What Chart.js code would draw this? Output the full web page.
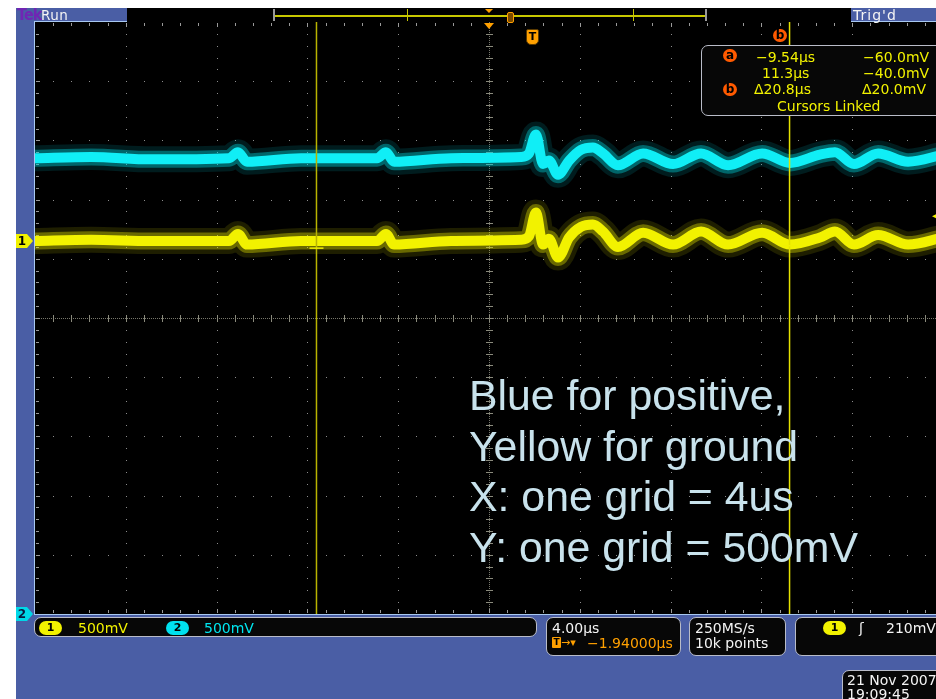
<!DOCTYPE html>
<html>
<head>
<meta charset="utf-8">
<script src="https://cdn.jsdelivr.net/npm/chart.js@4.4.1/dist/chart.umd.min.js"></script>
<style>
  html, body { margin: 0; padding: 0; width: 936px; height: 699px; overflow: hidden; background: #ffffff; }
  body { position: relative; font-family: "DejaVu Sans", sans-serif; }
  #frame { position: absolute; left: 16px; top: 8px; width: 920px; height: 691px; background: #4a5ea5; }
  #scope { position: absolute; left: 0; top: 0; z-index: 1; }
  .ui { position: absolute; z-index: 2; white-space: nowrap; font-size: 14px; line-height: 16px; }
  .box { position: absolute; z-index: 2; background: #070707; border: 1px solid #b9bcc8; border-radius: 7px; box-sizing: border-box; }
  .yel { color: #f2f200; }
  .cyn { color: #00e6f0; }
  .wht { color: #f4f4f4; }
  .org { color: #ffa000; }
  .pill { position: absolute; z-index: 3; height: 14px; border-radius: 7px; text-align: center; font: bold 11px/14px "DejaVu Sans", sans-serif; color: #000; }
  .dot { position: absolute; z-index: 3; width: 14px; height: 13px; border-radius: 7px; background: #ff5a00; color: #000; text-align: center; font: bold 12px/12px "DejaVu Sans", sans-serif; }
  #note { position: absolute; z-index: 2; left: 469px; top: 370px; font-family: "Liberation Sans", Arial, sans-serif; font-size: 42.8px; line-height: 50.7px; color: #c8e2ec; white-space: nowrap; }
</style>
</head>
<body>
<div id="frame"></div>
<canvas id="scope" width="960" height="699"></canvas>

<!-- status bar -->
<div class="ui" style="left:17px;top:6px;font-family:'DejaVu Sans Condensed','DejaVu Sans',sans-serif;font-weight:bold;font-size:16px;line-height:18px;color:#7026b4;letter-spacing:-0.8px;">Tek</div>
<div class="ui wht" style="left:41px;top:7px;font-size:13.5px;letter-spacing:0.4px;">Run</div>
<div style="position:absolute;z-index:2;left:127px;top:8px;width:724px;height:14px;background:#000;"></div>
<div style="position:absolute;z-index:3;left:273px;top:9px;width:2px;height:12px;background:#9a9a9a;"></div>
<div style="position:absolute;z-index:3;left:705px;top:9px;width:2px;height:12px;background:#9a9a9a;"></div>
<div style="position:absolute;z-index:3;left:275px;top:15px;width:430px;height:2px;background:#c8c800;"></div>
<div style="position:absolute;z-index:3;left:407px;top:9px;width:1px;height:12px;background:#c8c800;"></div>
<div style="position:absolute;z-index:3;left:633px;top:9px;width:1px;height:12px;background:#c8c800;"></div>
<div style="position:absolute;z-index:3;left:485px;top:9px;width:0;height:0;border-left:4px solid transparent;border-right:4px solid transparent;border-top:4px solid #ffa000;"></div>
<div style="position:absolute;z-index:3;left:507px;top:12px;width:5px;height:9px;border:1px solid #ffa000;border-radius:2px;background:#7a4a00;"></div>
<div class="ui wht" style="left:853px;top:7px;letter-spacing:1px;">Trig'd</div>

<!-- cursor handle and trigger badge -->
<div class="dot" style="left:773px;top:29px;">b</div>
<div style="position:absolute;z-index:3;left:526px;top:29px;width:11px;height:14px;background:#ffa000;border:1px solid #5a3a00;border-radius:2px 2px 5px 5px;color:#000;font:bold 11px/14px 'DejaVu Sans',sans-serif;text-align:center;">T</div>

<!-- cursor readout -->
<div class="box" style="left:701px;top:45px;width:250px;height:71px;"></div>
<div class="dot" style="left:723px;top:49px;">a</div>
<div class="ui yel" style="left:756px;top:48.5px;">−9.54µs</div>
<div class="ui yel" style="left:863px;top:48.5px;">−60.0mV</div>
<div class="ui yel" style="left:762px;top:64.5px;">11.3µs</div>
<div class="ui yel" style="left:863px;top:64.5px;">−40.0mV</div>
<div class="dot" style="left:723px;top:83px;">b</div>
<div class="ui yel" style="left:754px;top:81px;">Δ20.8µs</div>
<div class="ui yel" style="left:862px;top:81px;">Δ20.0mV</div>
<div class="ui yel" style="left:777px;top:98px;">Cursors Linked</div>

<!-- annotation -->
<div id="note">Blue for positive,<br>Yellow for ground<br>X: one grid = 4us<br>Y: one grid = 500mV</div>

<!-- channel / timebase / trigger readouts -->
<div class="box" style="left:34px;top:617px;width:503px;height:20px;"></div>
<div class="pill" style="left:39px;top:621px;width:23px;background:#f2f200;">1</div>
<div class="ui yel" style="left:78px;top:619.5px;">500mV</div>
<div class="pill" style="left:166px;top:621px;width:23px;background:#00e0ee;">2</div>
<div class="ui cyn" style="left:204px;top:619.5px;">500mV</div>

<div class="box" style="left:546px;top:617px;width:135px;height:39px;"></div>
<div class="ui wht" style="left:552px;top:619.5px;">4.00µs</div>
<div style="position:absolute;z-index:3;left:552px;top:637px;width:9px;height:11px;background:#ffa000;border-radius:1px;color:#000;font:bold 9px/11px 'DejaVu Sans',sans-serif;text-align:center;">T</div>
<div class="ui org" style="left:561px;top:634.5px;font-size:11px;">→▾</div>
<div class="ui org" style="left:587px;top:634.5px;">−1.94000µs</div>

<div class="box" style="left:689px;top:617px;width:97px;height:39px;"></div>
<div class="ui wht" style="left:695px;top:619.5px;">250MS/s</div>
<div class="ui wht" style="left:695px;top:634.5px;">10k points</div>

<div class="box" style="left:795px;top:617px;width:160px;height:39px;"></div>
<div class="pill" style="left:823px;top:621px;width:23px;background:#f2f200;">1</div>
<div class="ui wht" style="left:859px;top:619.5px;">ʃ</div>
<div class="ui wht" style="left:886px;top:619.5px;">210mV</div>

<div class="box" style="left:842px;top:670px;width:110px;height:40px;"></div>
<div class="ui wht" style="left:847px;top:671.5px;">21 Nov 2007</div>
<div class="ui wht" style="left:847px;top:685.5px;">19:09:45</div>

<script>
// Acquisition settings
const US_PER_DIV = 4;          // horizontal scale, µs per division
const MV_PER_DIV = 500;        // vertical scale, mV per division
const H_DIVS = 10;
const V_DIVS = 10;
const CENTER_US = -1.94;       // time at screen centre, relative to trigger
const CH1_GROUND_MV = 650;     // screen position of the channel 1 ground marker
const TRIGGER_LEVEL_MV = 210;  // channel 1 trigger level
const CURSOR_A_US = -9.54;
const CURSOR_B_US = 11.3;
const CURSOR_A_MV = -60.0;
const CURSOR_B_MV = -40.0;

// Sample times (µs from trigger)
const timeUs = [-21.94, -19.47, -16.83, -13.39, -13.00, -12.60, -10.22, -6.87, -6.48, -6.12,
                -3.61, -0.53, -0.18, 0.13, 0.44, 0.70, 1.10, 1.59, 2.11, 2.64,
                3.08, 3.74, 4.85, 6.17, 7.40, 8.59, 10.09, 11.32, 12.64, 13.30,
                14.14, 15.20, 16.52, 18.06];

// Channel 1 (yellow, ground lead), mV relative to its ground marker
const ch1Mv = [0, 10, 0, 0, 60, -30, 0, 0, 60, -30,
               0, 10, 40, 240, -30, 20, -140, 30, 120, 140,
               80, -50, 70, -30, 80, -30, 70, -30, 30, 80,
               -30, 50, -30, 30];

// Channel 2 (cyan, positive lead), mV as placed on screen
const ch2Mv = [1350, 1360, 1340, 1350, 1400, 1320, 1350, 1350, 1400, 1320,
               1350, 1360, 1390, 1550, 1300, 1330, 1210, 1330, 1420, 1440,
               1390, 1290, 1390, 1300, 1390, 1290, 1390, 1310, 1380, 1400,
               1300, 1390, 1320, 1380];

const X_MIN = CENTER_US - US_PER_DIV * H_DIVS / 2;
const X_MAX = CENTER_US + US_PER_DIV * H_DIVS / 2;
const Y_MIN = -MV_PER_DIV * V_DIVS / 2;
const Y_MAX = MV_PER_DIV * V_DIVS / 2;

const ch1Points = timeUs.map((t, i) => ({ x: t, y: ch1Mv[i] + CH1_GROUND_MV }));
const ch2Points = timeUs.map((t, i) => ({ x: t, y: ch2Mv[i] }));

// Each trace is a bright core over a softer persistence glow
function traceLayers(points, core, glow, haze, baseOrder) {
  const common = { data: points, pointRadius: 0, cubicInterpolationMode: 'monotone', fill: false,
                   borderJoinStyle: 'round', borderCapStyle: 'round' };
  return [
    Object.assign({}, common, { borderColor: haze, borderWidth: 26, order: baseOrder + 2 }),
    Object.assign({}, common, { borderColor: glow, borderWidth: 17, order: baseOrder + 1 }),
    Object.assign({}, common, { borderColor: core, borderWidth: 10, order: baseOrder })
  ];
}

const graticule = {
  id: 'graticule',
  beforeDatasetsDraw(chart) {
    const { ctx, chartArea: a, scales: { x, y } } = chart;
    ctx.save();
    ctx.fillStyle = '#000';
    ctx.fillRect(a.left, a.top, a.right - a.left, a.bottom - a.top);

    const cx = Math.round(x.getPixelForValue(CENTER_US));
    const cy = Math.round(y.getPixelForValue(0));

    // grid dots on each division line at fifth-division spacing
    ctx.fillStyle = '#8c8c8c';
    for (let i = 1; i < H_DIVS; i++) {
      if (i === H_DIVS / 2) continue;
      const px = Math.round(x.getPixelForValue(X_MIN + i * US_PER_DIV));
      for (let j = 1; j < V_DIVS * 5; j++) {
        const py = Math.round(y.getPixelForValue(Y_MIN + j * MV_PER_DIV / 5));
        ctx.fillRect(px, py, 1, 1);
      }
    }
    for (let j = 1; j < V_DIVS; j++) {
      if (j === V_DIVS / 2) continue;
      const py = Math.round(y.getPixelForValue(Y_MIN + j * MV_PER_DIV));
      for (let i = 1; i < H_DIVS * 5; i++) {
        const px = Math.round(x.getPixelForValue(X_MIN + i * US_PER_DIV / 5));
        ctx.fillRect(px, py, 1, 1);
      }
    }

    // centre cross: fine dotted lines with fifth-division ticks
    ctx.fillStyle = '#77776c';
    for (let px = a.left; px < a.right; px += 2) ctx.fillRect(px, cy, 1, 1);
    for (let py = a.top; py < a.bottom; py += 2) ctx.fillRect(cx, py, 1, 1);
    ctx.fillStyle = '#8a8a7c';
    for (let i = 1; i < H_DIVS * 5; i++) {
      const px = Math.round(x.getPixelForValue(X_MIN + i * US_PER_DIV / 5));
      ctx.fillRect(px, cy - 3, 1, 7);
    }
    for (let j = 1; j < V_DIVS * 5; j++) {
      const py = Math.round(y.getPixelForValue(Y_MIN + j * MV_PER_DIV / 5));
      ctx.fillRect(cx - 3, py, 7, 1);
    }

    // edge ticks
    ctx.fillStyle = '#9a9a9a';
    for (let i = 1; i < H_DIVS * 5; i++) {
      const px = Math.round(x.getPixelForValue(X_MIN + i * US_PER_DIV / 5));
      const len = i % 5 === 0 ? 4 : 3;
      ctx.fillRect(px, a.top + 1, 1, len);
      ctx.fillRect(px, a.bottom - 1 - len, 1, len);
    }
    for (let j = 1; j < V_DIVS * 5; j++) {
      const py = Math.round(y.getPixelForValue(Y_MIN + j * MV_PER_DIV / 5));
      const len = j % 5 === 0 ? 4 : 3;
      ctx.fillRect(a.left + 1, py, len, 1);
      ctx.fillRect(a.right - 1 - len, py, len, 1);
    }
    ctx.restore();
  },
  afterDatasetsDraw(chart) {
    const { ctx, chartArea: a, scales: { x, y } } = chart;
    ctx.save();

    // vertical time cursors
    const xa = x.getPixelForValue(CURSOR_A_US);
    const xb = x.getPixelForValue(CURSOR_B_US);
    ctx.lineWidth = 1.5;
    ctx.strokeStyle = '#b8b400';
    ctx.beginPath(); ctx.moveTo(xa, a.top); ctx.lineTo(xa, a.bottom); ctx.stroke();
    ctx.strokeStyle = '#e4e200';
    ctx.beginPath(); ctx.moveTo(xb, a.top); ctx.lineTo(xb, a.bottom); ctx.stroke();

    // cursor / waveform intersection marks
    ctx.strokeStyle = '#f0f000';
    ctx.lineWidth = 1.5;
    [[xa, CURSOR_A_MV], [xb, CURSOR_B_MV]].forEach(([px, mv]) => {
      const py = y.getPixelForValue(mv + CH1_GROUND_MV);
      ctx.beginPath(); ctx.moveTo(px - 7, py); ctx.lineTo(px + 7, py); ctx.stroke();
    });

    // frame
    ctx.strokeStyle = '#a8c8f0';
    ctx.lineWidth = 1;
    ctx.strokeRect(a.left - 0.5, a.top - 0.5, a.right - a.left + 1, a.bottom - a.top + 1);

    // horizontal position marker
    const cx = x.getPixelForValue(CENTER_US);
    ctx.fillStyle = '#ffa000';
    ctx.beginPath();
    ctx.moveTo(cx - 5, a.top + 1); ctx.lineTo(cx + 5, a.top + 1); ctx.lineTo(cx, a.top + 7);
    ctx.closePath(); ctx.fill();

    // trigger level marker on the right edge
    const ty = y.getPixelForValue(TRIGGER_LEVEL_MV + CH1_GROUND_MV);
    ctx.fillStyle = '#f2f200';
    ctx.beginPath();
    ctx.moveTo(932, ty); ctx.lineTo(940, ty - 4); ctx.lineTo(940, ty + 4);
    ctx.closePath(); ctx.fill();

    // channel ground markers
    function marker(py, fill, label, textColor) {
      ctx.fillStyle = fill;
      ctx.beginPath();
      ctx.moveTo(16, py - 7); ctx.lineTo(27, py - 7); ctx.lineTo(33, py);
      ctx.lineTo(27, py + 7); ctx.lineTo(16, py + 7);
      ctx.closePath(); ctx.fill();
      ctx.fillStyle = textColor;
      ctx.font = 'bold 12px "DejaVu Sans", sans-serif';
      ctx.textAlign = 'center';
      ctx.textBaseline = 'middle';
      ctx.fillText(label, 22, py + 1);
    }
    marker(y.getPixelForValue(CH1_GROUND_MV), '#f2f200', '1', '#000');
    marker(y.getPixelForValue(Y_MIN), '#00d8e8', '2', '#0a1a40');
    ctx.restore();
  }
};

new Chart(document.getElementById('scope'), {
  type: 'line',
  data: {
    datasets: [
      ...traceLayers(ch2Points, '#10eef6', 'rgba(0,220,230,0.38)', 'rgba(0,200,210,0.14)', 1),
      ...traceLayers(ch1Points, '#f2f200', 'rgba(230,230,0,0.38)', 'rgba(210,210,0,0.14)', 4)
    ]
  },
  options: {
    responsive: false,
    animation: false,
    layout: { padding: { left: 35, top: 22, right: 17, bottom: 85 } },
    scales: {
      x: { type: 'linear', min: X_MIN, max: X_MAX, display: false },
      y: { type: 'linear', min: Y_MIN, max: Y_MAX, display: false }
    },
    plugins: { legend: { display: false }, tooltip: { enabled: false } },
    events: []
  },
  plugins: [graticule]
});
</script>
</body>
</html>
